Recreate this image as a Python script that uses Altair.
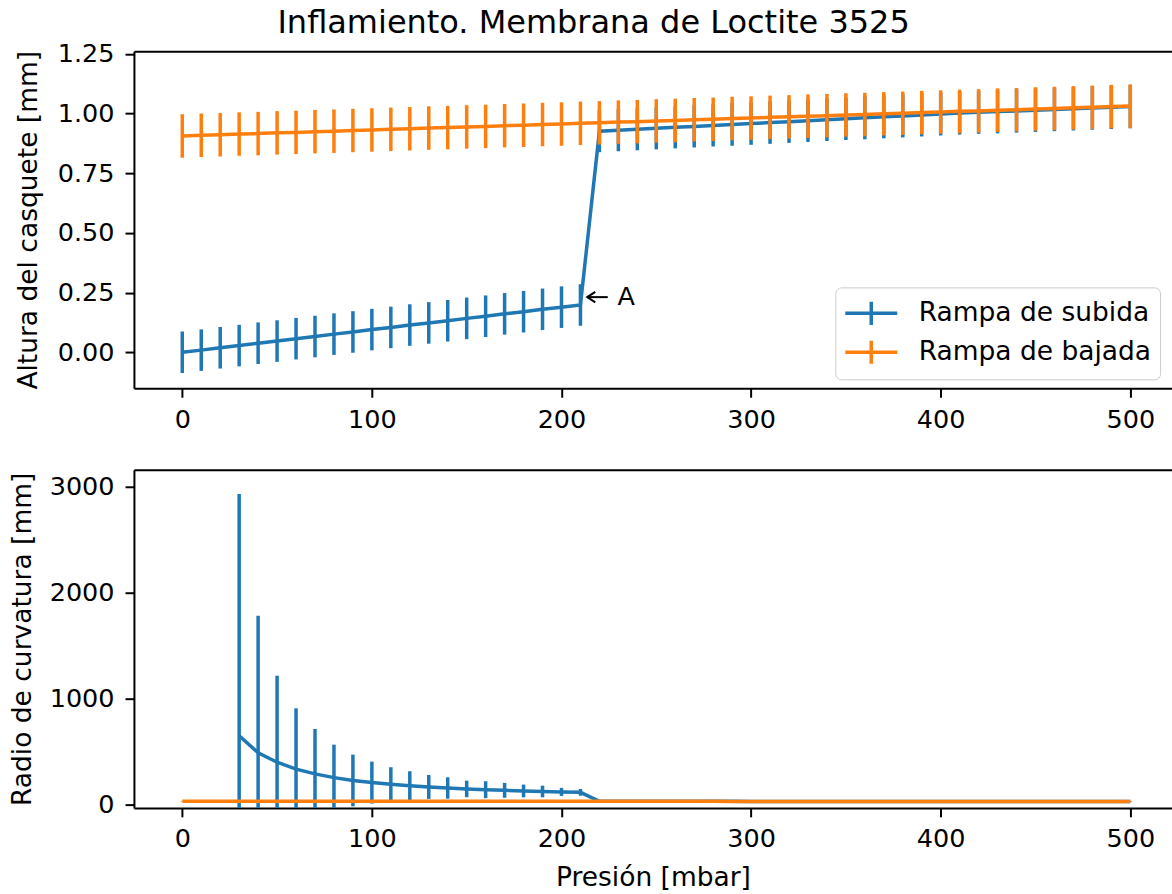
import altair as alt
import pandas as pd

# ---------------- data ----------------
presion = [0, 10, 20, 30, 40, 50, 60, 70, 80, 90, 100, 110, 120, 130, 140, 150,
           160, 170, 180, 190, 200, 210, 220, 230, 240, 250, 260, 270, 280, 290,
           300, 310, 320, 330, 340, 350, 360, 370, 380, 390, 400, 410, 420, 430,
           440, 450, 460, 470, 480, 490, 500]

series = ["Rampa de subida", "Rampa de bajada"]
colores = ["#1f77b4", "#ff7f0e"]

altura_subida = [0.000, 0.009, 0.019, 0.028, 0.038, 0.047, 0.057, 0.066, 0.076, 0.085,
                 0.095, 0.104, 0.114, 0.123, 0.132, 0.142, 0.151, 0.161, 0.170, 0.180,
                 0.189, 0.198,
                 0.926, 0.930, 0.934, 0.938, 0.942, 0.946, 0.950, 0.954, 0.958, 0.962,
                 0.966, 0.970, 0.974, 0.978, 0.982, 0.986, 0.990, 0.994, 0.998, 1.002,
                 1.005, 1.008, 1.011, 1.014, 1.017, 1.020, 1.023, 1.026, 1.029]
err_altura_subida = [0.087] * 22 + [0.088, 0.088, 0.088, 0.088, 0.088, 0.088, 0.088,
                                    0.089, 0.089, 0.089, 0.089, 0.089, 0.089, 0.089,
                                    0.090, 0.090, 0.090, 0.090, 0.090, 0.090, 0.090,
                                    0.091, 0.091, 0.091, 0.091, 0.091, 0.091, 0.091,
                                    0.091]

altura_bajada = [0.906, 0.909, 0.911, 0.914, 0.916, 0.919, 0.921, 0.924, 0.926, 0.929,
                 0.931, 0.934, 0.936, 0.939, 0.941, 0.944, 0.946, 0.949, 0.951, 0.954,
                 0.956, 0.959, 0.961, 0.964, 0.966, 0.969, 0.971, 0.974, 0.976, 0.979,
                 0.981, 0.984, 0.986, 0.989, 0.991, 0.994, 0.996, 0.999, 1.001, 1.004,
                 1.006, 1.009, 1.011, 1.014, 1.016, 1.019, 1.021, 1.024, 1.026, 1.029,
                 1.031]
err_altura_bajada = [0.091] * 51

radio_subida = [None, None, None, 650, 490, 400, 335, 290, 255, 228, 208, 192, 178, 167,
                157, 148, 141, 135, 129, 124, 120, 116,
                31.5, 31.4, 31.3, 31.2, 31.1, 31.0, 30.9, 30.8, 30.7, 30.6, 30.5, 30.4,
                30.3, 30.2, 30.1, 30.0, 29.9, 29.8, 29.7, 29.6, 29.5, 29.4, 29.3, 29.3,
                29.2, 29.2, 29.1, 29.1, 29.0]
err_radio_subida = [None, None, None, 2281, 1293, 817, 574, 424, 311, 244, 198, 161, 137,
                    113, 101, 78, 80, 70, 60, 55, 38, 32] + [2.6] * 29

radio_bajada = [33.0, 32.9, 32.8, 32.8, 32.7, 32.6, 32.5, 32.4, 32.4, 32.3,
                32.2, 32.1, 32.0, 32.0, 31.9, 31.8, 31.7, 31.6, 31.6, 31.5,
                31.4, 31.3, 31.2, 31.2, 31.1, 31.0, 30.9, 30.8, 30.8, 30.7,
                30.6, 30.5, 30.4, 30.4, 30.3, 30.2, 30.1, 30.0, 30.0, 29.9,
                29.8, 29.7, 29.6, 29.6, 29.5, 29.4, 29.3, 29.2, 29.2, 29.1, 29.0]
err_radio_bajada = [2.4] * 51

# annotation "A"
anot_x_punta = [213.6]
anot_x_cola = [224.4]
anot_x_letra = [229.5]
anot_y = [0.231]
anot_texto = ["A"]

x_ticks = [0, 100, 200, 300, 400, 500]
y_ticks_top = [0.0, 0.25, 0.5, 0.75, 1.0, 1.25]
y_ticks_bot = [0, 1000, 2000, 3000]

FONT = "DejaVu Sans"
FS = 25.5      # tick labels
FS_T = 26.5    # axis titles, legend, annotation
LW = 3.5


def build(vals, errs):
    rows = []
    for name, v, e in zip(series, vals, errs):
        for p, y, er in zip(presion, v, e):
            if y is None:
                continue
            rows.append({"p": p, "v": y, "lo": y - er, "hi": y + er, "serie": name})
    return pd.DataFrame(rows)


df_top = build([altura_subida, altura_bajada], [err_altura_subida, err_altura_bajada])
df_bot = build([radio_subida, radio_bajada], [err_radio_subida, err_radio_bajada])

xs = alt.Scale(domain=[-25.5, 522], nice=False, zero=False)
ys_top = alt.Scale(domain=[-0.151, 1.261], nice=False, zero=False)
ys_bot = alt.Scale(domain=[-31, 3160], nice=False, zero=False)

W = 1038.6
H_TOP = 337.3
H_BOT = 338.3

legend_top = alt.Legend(
    title=None, orient="none", legendX=701.7, legendY=236.3,
    symbolType="M-1.625,0H1.625M0,-0.72V0.72", symbolSize=1024,
    symbolStrokeWidth=LW, symbolFillColor="transparent",
    labelFont=FONT, labelFontSize=FS_T, labelColor="black", labelOffset=29.5,
    labelLimit=400, padding=8, rowPadding=1, symbolOffset=10,
    strokeColor="#cccccc", fillColor="white", cornerRadius=6, offset=0,
)


def panel(df, ys, y_axis, x_axis, legend, clip, extra=None):
    col = alt.Color("serie:N", scale=alt.Scale(domain=series, range=colores), legend=legend)
    xenc = alt.X("p:Q", scale=xs, axis=x_axis)
    layers = []
    for name in series:
        sub = alt.Chart(df).transform_filter(alt.datum.serie == name)
        bars = sub.mark_rule(strokeWidth=LW, clip=clip).encode(
            x=xenc, y=alt.Y("lo:Q", scale=ys, axis=y_axis), y2="hi:Q", color=col)
        line = sub.mark_line(strokeWidth=LW, clip=clip).encode(
            x=xenc, y=alt.Y("v:Q", scale=ys, axis=y_axis), color=col)
        layers += [bars, line]
    if extra:
        layers += extra
    inner = alt.layer(*layers)
    border = alt.Chart(df).mark_point(opacity=0).encode(
        x=alt.X("p:Q", scale=xs, axis=alt.Axis(orient="top", labels=False, ticks=False,
                                                domain=True, title=None, grid=False)))
    return alt.layer(inner, border).resolve_axis(x="independent")


x_axis_top = alt.Axis(values=x_ticks, title=None, labelPadding=10, grid=False)
x_axis_bot = alt.Axis(values=x_ticks, title="Presión [mbar]", labelPadding=10,
                      titlePadding=12, grid=False)
y_axis_top = alt.Axis(values=y_ticks_top, format=".2f", title="Altura del casquete [mm]",
                      titlePadding=15, grid=False)
y_axis_bot = alt.Axis(values=y_ticks_bot, format="d", title="Radio de curvatura [mm]",
                      titlePadding=13, grid=False)

anot_df = pd.DataFrame({"x1": anot_x_punta, "x2": anot_x_cola, "xt": anot_x_letra,
                        "y": anot_y, "t": anot_texto})
anot_rule = alt.Chart(anot_df).mark_rule(color="black", strokeWidth=2).encode(
    x=alt.X("x1:Q", scale=xs, axis=x_axis_top), x2="x2:Q",
    y=alt.Y("y:Q", scale=ys_top, axis=y_axis_top))
anot_head = alt.Chart(anot_df).mark_point(
    shape="M1,-0.65L0,0L1,0.65", size=256, filled=False, color="black",
    strokeWidth=2, opacity=1).encode(
    x=alt.X("x1:Q", scale=xs, axis=x_axis_top),
    y=alt.Y("y:Q", scale=ys_top, axis=y_axis_top))
anot_text = alt.Chart(anot_df).mark_text(
    align="left", baseline="middle", font=FONT, fontSize=FS, color="black").encode(
    x=alt.X("xt:Q", scale=xs, axis=x_axis_top),
    y=alt.Y("y:Q", scale=ys_top, axis=y_axis_top), text="t:N")

top = panel(df_top, ys_top, y_axis_top, x_axis_top, legend_top, False,
            [anot_rule, anot_head, anot_text]).properties(width=W, height=H_TOP)
bot = panel(df_bot, ys_bot, y_axis_bot, x_axis_bot, None, True).properties(
    width=W, height=H_BOT)

chart = alt.vconcat(top, bot, spacing=36.8).resolve_scale(color="independent").properties(
    title=alt.TitleParams("Inflamiento. Membrana de Loctite 3525", font=FONT,
                          fontSize=32, fontWeight="normal", color="black",
                          anchor="middle", offset=2, dx=3),
    padding={"left": 9, "top": 6, "right": 0, "bottom": 0},
).configure_view(stroke=None).configure_axis(
    labelFont=FONT, labelFontSize=FS, labelColor="black",
    titleFont=FONT, titleFontSize=FS_T, titleColor="black", titleFontWeight="normal",
    domainColor="black", domainWidth=2, tickColor="black", tickWidth=2, tickSize=8.9,
    labelPadding=11, grid=False,
)

chart.save("out.html", embed_options={"renderer": "svg", "actions": False})
